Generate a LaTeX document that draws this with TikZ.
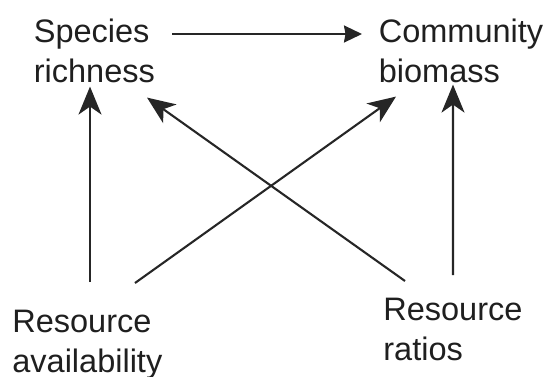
\documentclass[tikz,border=0pt]{standalone}
\usepackage{fontspec}
\setmainfont{Liberation Sans}
\usetikzlibrary{arrows.meta}
\begin{document}
\begin{tikzpicture}[
	lbl/.style={anchor=north west,inner sep=0pt,align=left,text=black!88,font=\fontsize{18.5}{22.76}\selectfont},
	arr/.style={draw=black!85,line width=0.042cm,-{Stealth[length=0.56cm,width=0.46cm,inset=0.16cm]}},
	harr/.style={draw=black!85,line width=0.042cm,-{Stealth[length=0.36cm,width=0.34cm,inset=0.03cm]}}]
	\useasboundingbox (0,0) rectangle (10.92,7.52);
	\node[lbl] (spec) at (0.67,7.15) {Species\\richness};
	\node[lbl] (comm) at (7.57,7.15) {Community\\biomass};
	\node[lbl] (avail) at (0.24,1.33) {Resource\\availability};
	\node[lbl] (ratio) at (7.66,1.56) {Resource\\ratios};
	\draw[harr] ([shift={(2.77,-0.31)}]spec.north west) -- ([shift={(-0.33,-0.31)}]comm.north west);
	\draw[arr] ([shift={(1.56,0.55)}]avail.north west) -- ([shift={(1.13,-0.07)}]spec.south west);
	\draw[arr] ([shift={(0.44,0.34)}]ratio.north west) -- ([shift={(2.27,-0.29)}]spec.south west);
	\draw[arr] ([shift={(2.46,0.53)}]avail.north west) -- ([shift={(0.35,-0.27)}]comm.south west);
	\draw[arr] ([shift={(1.40,0.46)}]ratio.north west) -- ([shift={(1.49,-0.03)}]comm.south west);
\end{tikzpicture}
\end{document}
